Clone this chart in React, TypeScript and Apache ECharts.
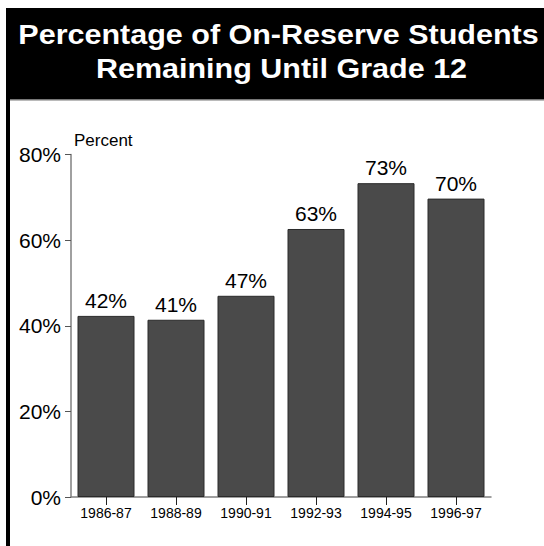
import React, { useEffect, useRef } from "react";
import * as echarts from "echarts";

const categories = ["1986-87", "1988-89", "1990-91", "1992-93", "1994-95", "1996-97"];
const values = [42.3, 41.4, 47.0, 62.6, 73.3, 69.7];
const titleLines = ["Percentage of On-Reserve Students", "Remaining Until Grade 12"];
const yTicks = [0, 20, 40, 60, 80];

const FONT = "'Liberation Sans', Arial, Helvetica, sans-serif";

export default function App() {
  const ref = useRef<HTMLDivElement>(null);
  useEffect(() => {
    document.body.style.margin = "0";
    const chart = echarts.init(ref.current!, undefined, { renderer: "svg" });
    chart.setOption({
      animation: false,
      backgroundColor: "#ffffff",
      textStyle: { fontFamily: FONT },
      graphic: [
        { type: "rect", shape: { x: 6, y: 8, width: 538, height: 91 }, style: { fill: "#000" }, silent: true },
        { type: "rect", shape: { x: 6, y: 99, width: 538, height: 1.5 }, style: { fill: "#777" }, silent: true },
        { type: "rect", shape: { x: 6, y: 8, width: 4, height: 538 }, style: { fill: "#000" }, silent: true },
        {
          type: "text", x: 278.5, y: 21, scaleX: 1.13,
          style: { text: titleLines[0], fill: "#fff", font: `bold 27px ${FONT}`, textAlign: "center", textVerticalAlign: "top" },
          silent: true,
        },
        {
          type: "text", x: 281.5, y: 55, scaleX: 1.13,
          style: { text: titleLines[1], fill: "#fff", font: `bold 27px ${FONT}`, textAlign: "center", textVerticalAlign: "top" },
          silent: true,
        },
        {
          type: "text", x: 74, y: 132,
          style: { text: "Percent", fill: "#000", font: `17px ${FONT}`, textAlign: "left", textVerticalAlign: "top" },
          silent: true,
        },
      ],
      grid: { left: 71, right: 53, top: 154.5, bottom: 49, containLabel: false },
      xAxis: {
        type: "category",
        data: categories,
        axisLine: { show: true, lineStyle: { color: "#808080", width: 1.5 } },
        axisTick: { show: true, alignWithLabel: true, length: 8, lineStyle: { color: "#222" } },
        axisLabel: { color: "#000", fontSize: 14, margin: 9, fontFamily: FONT },
      },
      yAxis: {
        type: "value",
        min: 0,
        max: 80,
        interval: 20,
        axisLine: { show: true, lineStyle: { color: "#808080", width: 1.5 } },
        axisTick: { show: true, length: 6, lineStyle: { color: "#555" } },
        axisLabel: {
          color: "#000", fontSize: 21, margin: 10, fontFamily: FONT,
          formatter: (v: number) => (yTicks.includes(v) ? `${v}%` : ""),
        },
        splitLine: { show: false },
      },
      series: [
        {
          type: "bar",
          data: values,
          barWidth: 57,
          itemStyle: { color: "#4a4a4a", borderColor: "#2a2a2a", borderWidth: 1 },
          label: {
            show: true,
            position: "top",
            distance: 5,
            color: "#000",
            fontSize: 21,
            fontFamily: FONT,
            formatter: (p: any) => `${Math.round(p.value)}%`,
          },
        },
      ],
    });
    return () => chart.dispose();
  }, []);
  return <div ref={ref} style={{ width: 544, height: 546 }} />;
}
